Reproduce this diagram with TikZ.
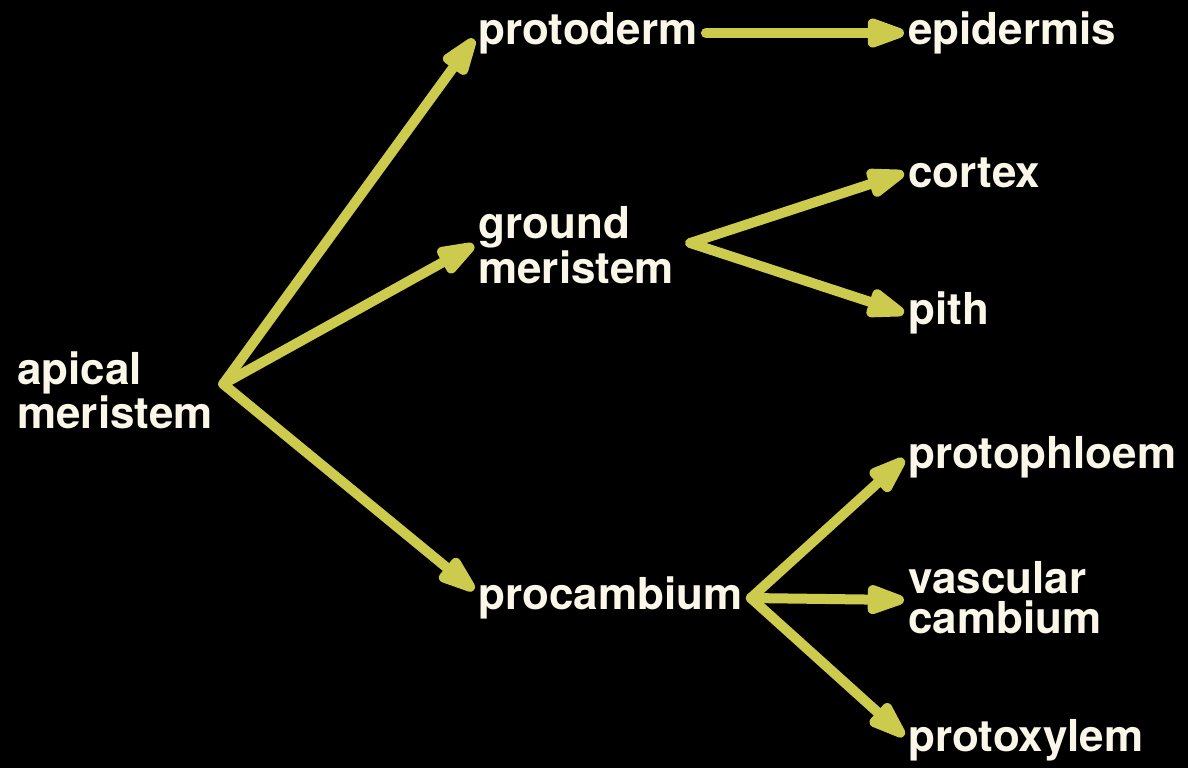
\documentclass[tikz,border=0pt]{standalone}
\usepackage{fontspec}
\setmainfont{TeX Gyre Heros}
\usetikzlibrary{arrows.meta}
\definecolor{arr}{RGB}{205,203,78}
\definecolor{txt}{RGB}{250,246,232}
\begin{document}
\begin{tikzpicture}[x=0.5pt,y=-0.5pt,
  lbl/.style={anchor=west,text=txt,font=\fontsize{22}{20}\selectfont\bfseries,align=left,inner sep=2pt},
  arrow/.style={draw=arr,line width=5pt,line cap=round,-{Triangle[length=24pt,width=15pt,round]}}]
\useasboundingbox (0,0) rectangle (1188,768);
\fill[black] (0,0) rectangle (1188,768);
\node[lbl] (am) at (13,390) {apical\\meristem};
\node[lbl] (pd) at (474,33) {protoderm};
\node[lbl] (gm) at (474,245) {ground\\meristem};
\node[lbl] (pc) at (474,598) {procambium};
\node[lbl] (ep) at (904,33) {epidermis};
\node[lbl] (co) at (904,173) {cortex};
\node[lbl] (pi) at (904,313) {pith};
\node[lbl] (pp) at (904,457) {protophloem};
\node[lbl] (vc) at (904,598) {vascular\\cambium};
\node[lbl] (px) at (904,740) {protoxylem};
\coordinate (amo) at ([xshift=3pt,yshift=3pt]am.east);
\coordinate (gmo) at ([xshift=6pt,yshift=1pt]gm.east);
\coordinate (pco) at ([xshift=2pt]pc.east);
\draw[arrow] (amo) -- ([yshift=-3pt]pd.west);
\draw[arrow] (amo) -- (gm.west);
\draw[arrow] (amo) -- ([yshift=4pt]pc.west);
\draw[arrow] ([xshift=2pt]pd.east) -- (ep.west);
\draw[arrow] (gmo) -- (co.west);
\draw[arrow] (gmo) -- (pi.west);
\draw[arrow] (pco) -- ([yshift=-1pt]pp.west);
\draw[arrow] (pco) -- ([yshift=-1pt]vc.west);
\draw[arrow] (pco) -- ([yshift=2pt]px.west);
\end{tikzpicture}
\end{document}
